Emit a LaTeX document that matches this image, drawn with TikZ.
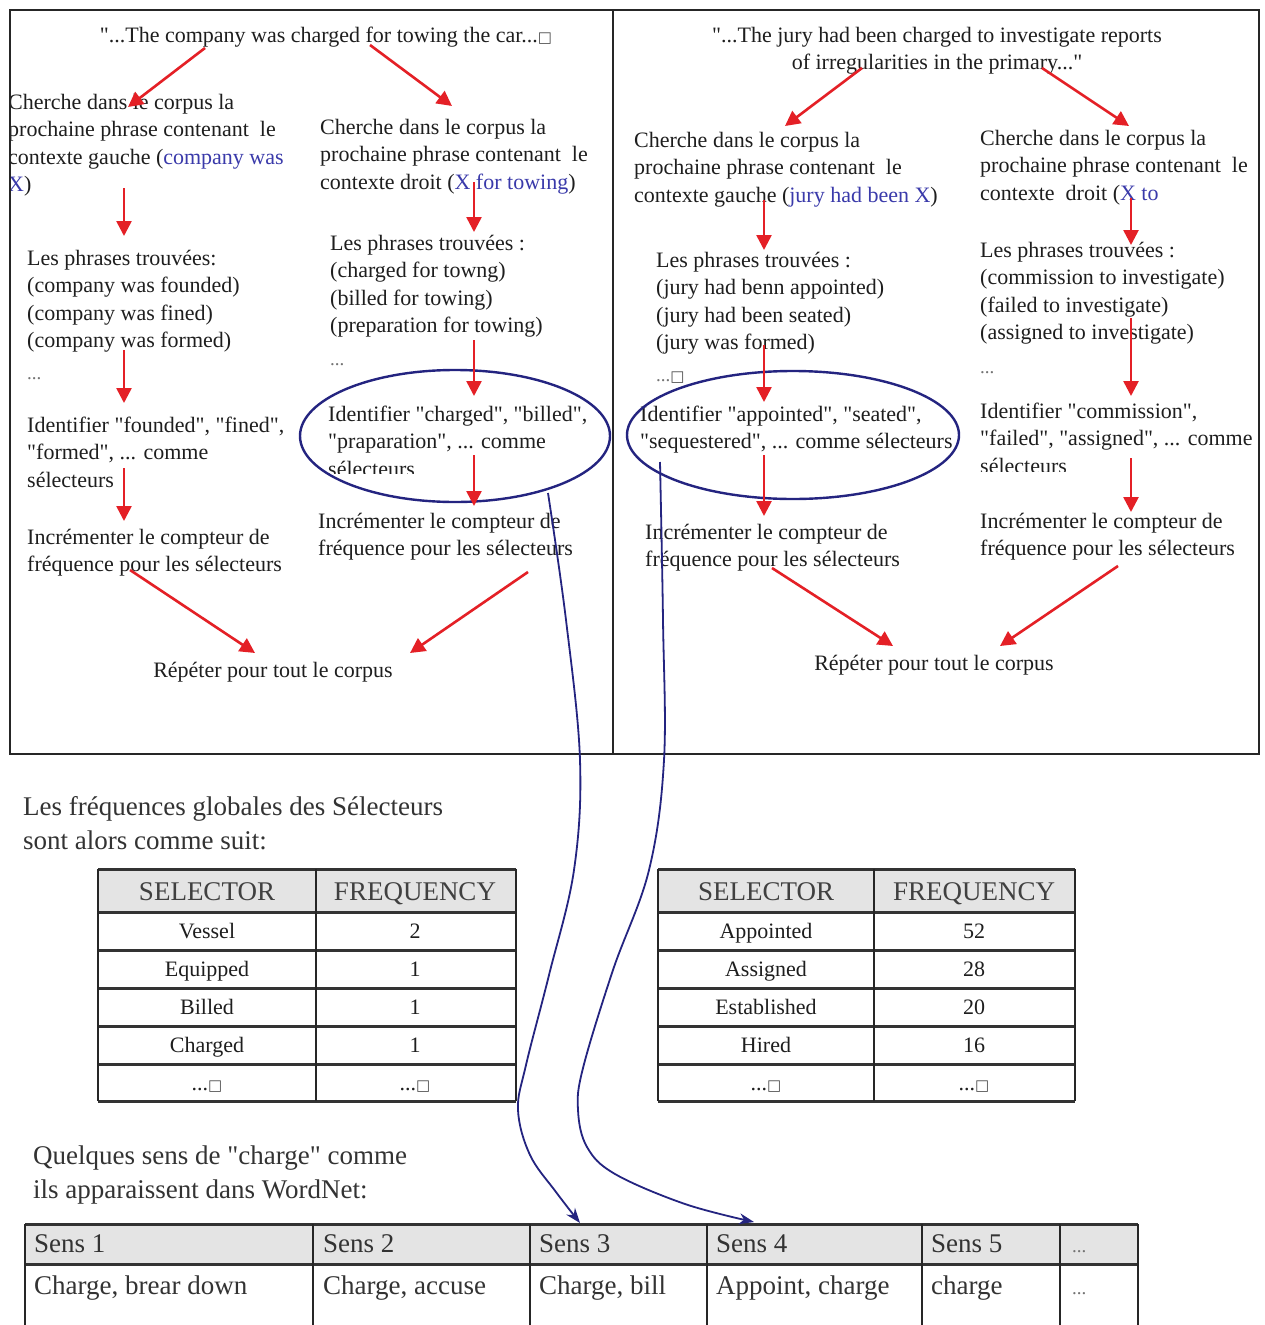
\documentclass[tikz,border=0pt]{standalone}
\usepackage{fontspec}
\setmainfont{Liberation Serif}[Ligatures=TeXOff]
\newfontfamily\glyphfont{DejaVu Sans}
\usetikzlibrary{arrows.meta,shapes.geometric}

\definecolor{arrowred}{RGB}{228,32,38}
\definecolor{ringblue}{RGB}{36,36,128}
\definecolor{ctxblue}{RGB}{58,58,170}
\definecolor{headgray}{RGB}{228,228,228}
\definecolor{inkgray}{RGB}{30,30,30}

\newcommand\bodyfont{\fontsize{22}{27.5}\selectfont}
\newcommand\introfont{\fontsize{27}{34}\selectfont}
\newcommand\ctx[1]{\textcolor{ctxblue}{#1}}
\newcommand\tofu{{\glyphfont\fontsize{15}{15}\selectfont\textcolor{black!70}{□}}}
\newcommand\smalldots{{\fontsize{19}{19}\selectfont\textcolor{black!55}{...}}}

\tikzset{
  block/.style={anchor=north west, inner sep=0pt, align=left, font=\bodyfont, text=inkgray, yshift=19.25pt},
  oneline/.style={anchor=base, inner sep=0pt, font=\bodyfont, text=inkgray},
  centred/.style={anchor=north, inner sep=0pt, align=center, font=\bodyfont, text=inkgray, yshift=19.25pt},
  redarrow/.style={draw=arrowred, line width=2.6pt, -{Triangle[length=15pt,width=15pt]}},
  selring/.style={draw=ringblue, line width=2.4pt, ellipse, inner sep=0pt},
  senselink/.style={draw=ringblue, line width=1.8pt, -{Stealth[length=15pt,width=11pt]}},
  panel/.style={draw=black!85, line width=2pt},
  hrule/.style={draw=black!80, line width=3pt},
  vrule/.style={draw=black!85, line width=2pt},
  cell/.style={anchor=base, inner sep=0pt, font=\bodyfont, text=inkgray},
  headcell/.style={anchor=base, inner sep=0pt, font=\introfont, text=black!75},
  sensecell/.style={anchor=base west, inner sep=0pt, font=\introfont, text=black!80},
  intro/.style={anchor=north west, inner sep=0pt, align=left, font=\introfont, text=black!80, yshift=23.8pt},
}

\begin{document}
\begin{tikzpicture}[x=1pt,y=-1pt]
\useasboundingbox[fill=white] (0,0) rectangle (1265,1325);

% ---------- left panel: "charged for towing" ----------
\begin{scope}
\clip (10,10) rectangle (613,754);
\node[oneline] (quoteL) at (326,42) {"...The company was charged for towing the car...\tofu};
\node[block] (searchLL) at (8,109) {\strut Cherche dans le corpus la\\prochaine phrase contenant\ \ le\\contexte gauche (\ctx{company was}\\\ctx{X})};
\node[block] (searchLR) at (320,134) {\strut Cherche dans le corpus la\\prochaine phrase contenant\ \ le\\contexte droit (\ctx{X for towing})};
\node[block] (foundLL) at (27,265) {\strut Les phrases trouvées:\\(company was founded)\\(company was fined)\\(company was formed)\\[4.5pt]\smalldots};
\node[block] (foundLR) at (330,250) {\strut Les phrases trouvées :\\(charged for towng)\\(billed for towing)\\(preparation for towing)\\[5.5pt]\smalldots};
\node[block] (identLL) at (27,432) {\strut Identifier "founded", "fined",\\"formed", ... comme\\sélecteurs};
\begin{scope}
\clip (300,380) rectangle (613,473);
\node[block] (identLR) at (328,421) {\strut Identifier "charged", "billed",\\"praparation", ... comme\\sélecteurs};
\end{scope}
\node[block] (countLL) at (27,544) {\strut Incrémenter le compteur de\\fréquence pour les sélecteurs};
\node[block] (countLR) at (318,528) {\strut Incrémenter le compteur de\\fréquence pour les sélecteurs};
\node[oneline] (repeatL) at (273,677) {Répéter pour tout le corpus};
\end{scope}

% ---------- right panel: "charged to investigate" ----------
\begin{scope}
\clip (613,10) rectangle (1259,754);
\node[centred] (quoteR) at (937,42) {\strut"...The jury had been charged to investigate reports\\of irregularities in the primary..."};
\node[block] (searchRL) at (634,147) {\strut Cherche dans le corpus la\\prochaine phrase contenant\ \ le\\contexte gauche (\ctx{jury had been X})};
\node[block] (searchRR) at (980,145) {\strut Cherche dans le corpus la\\prochaine phrase contenant\ \ le\\contexte\ \ droit (\ctx{X to}};
\node[block] (foundRL) at (656,267) {\strut Les phrases trouvées :\\(jury had benn appointed)\\(jury had been seated)\\(jury was formed)\\[4.5pt]\smalldots\tofu};
\node[block] (foundRR) at (980,257) {\strut Les phrases trouvées :\\(commission to investigate)\\(failed to investigate)\\(assigned to investigate)\\[6.5pt]\smalldots};
\node[block] (identRL) at (640,421) {\strut Identifier "appointed", "seated",\\"sequestered", ... comme sélecteurs};
\begin{scope}
\clip (975,390) rectangle (1259,471);
\node[block] (identRR) at (980,418) {\strut Identifier "commission",\\"failed", "assigned", ... comme\\sélecteurs};
\end{scope}
\node[block] (countRL) at (645,539) {\strut Incrémenter le compteur de\\fréquence pour les sélecteurs};
\node[block] (countRR) at (980,528) {\strut Incrémenter le compteur de\\fréquence pour les sélecteurs};
\node[oneline] (repeatR) at (934,670) {Répéter pour tout le corpus};
\end{scope}

% panel frames
\draw[panel] (10,10) rectangle (613,754);
\draw[panel] (613,10) rectangle (1259,754);

% selector rings
\node[selring, minimum width=310pt, minimum height=132pt] (ringL) at (455,436) {};
\node[selring, minimum width=332pt, minimum height=128pt] (ringR) at (793,435) {};

% red flow arrows, left panel
\coordinate (qLa) at (205,48);   \coordinate (sLLa) at (128,107);
\coordinate (qLb) at (370,45);   \coordinate (sLRa) at (452,106);
\coordinate (sLLb) at (124,188); \coordinate (fLLa) at (124,236);
\coordinate (sLRb) at (474,182); \coordinate (fLRa) at (474,232);
\coordinate (fLLb) at (124,350); \coordinate (iLLa) at (124,403);
\coordinate (fLRb) at (474,340); \coordinate (iLRa) at (474,396);
\coordinate (iLLb) at (124,468); \coordinate (cLLa) at (124,521);
\coordinate (iLRb) at (474,455); \coordinate (cLRa) at (474,506);
\coordinate (cLLb) at (130,570); \coordinate (rLa) at (255,653);
\coordinate (cLRb) at (528,572); \coordinate (rLb) at (410,653);
\foreach \a/\b in {qLa/sLLa, qLb/sLRa, sLLb/fLLa, sLRb/fLRa, fLLb/iLLa, fLRb/iLRa, iLLb/cLLa, iLRb/cLRa, cLLb/rLa, cLRb/rLb}
  \draw[redarrow] (\a) -- (\b);

% red flow arrows, right panel
\coordinate (qRa) at (862,68);    \coordinate (sRLa) at (785,126);
\coordinate (qRb) at (1042,68);   \coordinate (sRRa) at (1129,126);
\coordinate (sRLb) at (764,200);  \coordinate (fRLa) at (764,250);
\coordinate (sRRb) at (1131,198); \coordinate (fRRa) at (1131,245);
\coordinate (fRLb) at (764,345);  \coordinate (iRLa) at (764,402);
\coordinate (fRRb) at (1131,318); \coordinate (iRRa) at (1131,396);
\coordinate (iRLb) at (764,455);  \coordinate (cRLa) at (764,516);
\coordinate (iRRb) at (1131,458); \coordinate (cRRa) at (1131,512);
\coordinate (cRLb) at (772,568);  \coordinate (rRa) at (893,646);
\coordinate (cRRb) at (1118,566); \coordinate (rRb) at (1000,646);
\foreach \a/\b in {qRa/sRLa, qRb/sRRa, sRLb/fRLa, sRRb/fRRa, fRLb/iRLa, fRRb/iRRa, iRLb/cRLa, iRRb/cRRa, cRLb/rRa, cRRb/rRb}
  \draw[redarrow] (\a) -- (\b);

% ---------- global selector frequencies ----------
\node[intro] (freqIntro) at (23,815) {\strut Les fréquences globales des Sélecteurs\\sont alors comme suit:};

% table for "charged for towing"
\fill[headgray] (98,869) rectangle (516,912);
\foreach \y in {869,912,950,988,1026,1064,1101} \draw[hrule] (98,\y) -- (516,\y);
\foreach \x in {98,316,516} \draw[vrule] (\x,869) -- (\x,1101);
\node[headcell] (selHeadL) at (207,900) {SELECTOR};
\node[headcell] (freqHeadL) at (415,900) {FREQUENCY};
\foreach \w/\n/\y in {Vessel/2/938, Equipped/1/976, Billed/1/1014, Charged/1/1052}{
  \node[cell] at (207,\y) {\w};
  \node[cell] at (415,\y) {\n};
}
\node[cell] (moreSelL) at (207,1090) {...\tofu};
\node[cell] (moreFreqL) at (415,1090) {...\tofu};

% table for "charged to investigate"
\fill[headgray] (658,869) rectangle (1075,912);
\foreach \y in {869,912,950,988,1026,1064,1101} \draw[hrule] (658,\y) -- (1075,\y);
\foreach \x in {658,874,1075} \draw[vrule] (\x,869) -- (\x,1101);
\node[headcell] (selHeadR) at (766,900) {SELECTOR};
\node[headcell] (freqHeadR) at (974,900) {FREQUENCY};
\foreach \w/\n/\y in {Appointed/52/938, Assigned/28/976, Established/20/1014, Hired/16/1052}{
  \node[cell] at (766,\y) {\w};
  \node[cell] at (974,\y) {\n};
}
\node[cell] (moreSelR) at (766,1090) {...\tofu};
\node[cell] (moreFreqR) at (974,1090) {...\tofu};

% ---------- WordNet senses ----------
\node[intro] (senseIntro) at (33,1164) {\strut Quelques sens de "charge" comme\\ils apparaissent dans WordNet:};

\fill[headgray] (25,1224) rectangle (1138,1264);
\draw[hrule] (25,1224) -- (1138,1224);
\draw[hrule] (25,1264) -- (1138,1264);
\foreach \x in {25,313,530,707,922,1060,1138} \draw[vrule] (\x,1224) -- (\x,1325);
\node[sensecell] (sense1) at (34,1252) {Sens 1};
\node[sensecell] (sense2) at (323,1252) {Sens 2};
\node[sensecell] (sense3) at (539,1252) {Sens 3};
\node[sensecell] (sense4) at (716,1252) {Sens 4};
\node[sensecell] (sense5) at (931,1252) {Sens 5};
\node[sensecell] (senseMore) at (1072,1252) {\smalldots};
\node[sensecell] (gloss1) at (34,1294) {Charge, brear down};
\node[sensecell] (gloss2) at (323,1294) {Charge, accuse};
\node[sensecell] (gloss3) at (539,1294) {Charge, bill};
\node[sensecell] (gloss4) at (716,1294) {Appoint, charge};
\node[sensecell] (gloss5) at (931,1294) {charge};
\node[sensecell] (glossMore) at (1072,1294) {\smalldots};

% links from the selector rings to the matching senses
\coordinate (linkL) at (548,493);
\coordinate (linkR) at (660,462);
\coordinate (sense3top) at (580,1223);
\coordinate (sense4top) at (754,1222);
\draw[senselink] plot[smooth, tension=0.6] coordinates {(linkL) (566,620) (580,760) (574,870) (549,975) (526,1065) (518,1110) (530,1155) (556,1192) (sense3top)};
\draw[senselink] plot[smooth, tension=0.6] coordinates {(linkR) (663,620) (664,760) (649,870) (613,970) (583,1068) (578,1110) (587,1147) (615,1174) (685,1204) (sense4top)};

\end{tikzpicture}
\end{document}
